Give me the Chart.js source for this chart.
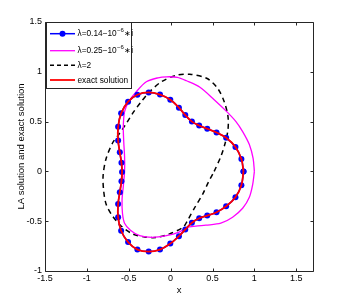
<!DOCTYPE html>
<html>
<head>
<meta charset="utf-8">
<script src="https://cdn.jsdelivr.net/npm/chart.js@4/dist/chart.umd.min.js"></script>
<style>
html,body{margin:0;padding:0;background:#fff;}
#c{display:block;}
</style>
</head>
<body>
<canvas id="c" width="346" height="305"></canvas>
<script>
// ---- data ----
const xTicks = [-1.5, -1, -0.5, 0, 0.5, 1, 1.5];
const yTicks = [-1, -0.5, 0, 0.5, 1, 1.5];
const xTickLabels = ['-1.5', '-1', '-0.5', '0', '0.5', '1', '1.5'];
const yTickLabels = ['-1', '-0.5', '0', '0.5', '1', '1.5'];

// LA solution, lambda = 0.14 - 1e-6 i (blue dots) and exact solution (red) coincide
const laX = [0.87, 0.845, 0.774, 0.663, 0.548, 0.437, 0.341, 0.254, 0.175, 0.099, -0.004, -0.127, -0.262, -0.397, -0.508, -0.591, -0.627, -0.627, -0.607, -0.587, -0.58, -0.587, -0.607, -0.627, -0.627, -0.591, -0.508, -0.397, -0.262, -0.127, -0.004, 0.099, 0.175, 0.254, 0.341, 0.437, 0.548, 0.663, 0.774, 0.845];
const laY = [0.0, 0.124, 0.245, 0.337, 0.39, 0.428, 0.461, 0.5, 0.566, 0.64, 0.72, 0.771, 0.793, 0.77, 0.70, 0.583, 0.448, 0.31, 0.192, 0.088, -0.005, -0.10, -0.209, -0.327, -0.461, -0.596, -0.71, -0.785, -0.805, -0.785, -0.725, -0.65, -0.583, -0.515, -0.47, -0.444, -0.41, -0.35, -0.26, -0.138];
const exactX = laX;
const exactY = laY;

// lambda = 0.25 - 1e-6 i (magenta)
const magX = [1.0, 0.985, 0.94, 0.86, 0.78, 0.67, 0.52, 0.35, 0.19, 0.08, -0.05, -0.15, -0.29, -0.41, -0.50, -0.55, -0.565, -0.56, -0.55, -0.55, -0.565, -0.58, -0.575, -0.55, -0.48, -0.37, -0.22, -0.05, 0.10, 0.19, 0.30, 0.42, 0.60, 0.74, 0.86, 0.94, 0.98];
const magY = [0.0, 0.13, 0.27, 0.40, 0.50, 0.60, 0.72, 0.845, 0.91, 0.945, 0.95, 0.94, 0.90, 0.80, 0.70, 0.60, 0.45, 0.30, 0.15, 0.0, -0.15, -0.28, -0.42, -0.52, -0.59, -0.645, -0.662, -0.645, -0.61, -0.565, -0.55, -0.54, -0.52, -0.46, -0.37, -0.26, -0.13];

// lambda = 2 (black dashed)
const l2X = [0.52, 0.60, 0.65, 0.685, 0.685, 0.64, 0.56, 0.43, 0.23, 0.07, -0.11, -0.25, -0.35, -0.44, -0.53, -0.62, -0.69, -0.77, -0.806, -0.80, -0.77, -0.70, -0.60, -0.45, -0.30, -0.17, -0.02, 0.15, 0.20, 0.29, 0.385, 0.45];
const l2Y = [0.0, 0.15, 0.28, 0.42, 0.55, 0.70, 0.835, 0.935, 0.975, 0.965, 0.90, 0.80, 0.70, 0.60, 0.48, 0.37, 0.29, 0.13, -0.04, -0.19, -0.33, -0.44, -0.54, -0.63, -0.66, -0.663, -0.63, -0.56, -0.495, -0.36, -0.225, -0.11];

const legendLabels = ['λ=0.14−10', 'λ=0.25−10', 'λ=2', 'exact solution'];

function pts(X, Y, close) {
  const p = X.map((x, i) => ({x: x, y: Y[i]}));
  if (close) p.push({x: X[0], y: Y[0]});
  return p;
}

const AX = '#262626';
const FONT = 'Liberation Sans, Arial, Helvetica, sans-serif';

const boxAndTicks = {
  id: 'boxAndTicks',
  afterDatasetsDraw(chart) {
    const ctx = chart.ctx;
    const a = chart.chartArea;
    const xs = chart.scales.x, ys = chart.scales.y;
    ctx.save();
    ctx.strokeStyle = AX;
    ctx.lineWidth = 1;
    const L = Math.round(a.left) + 0.5, R = Math.round(a.right) + 0.5;
    const T = Math.round(a.top) + 0.5, B = Math.round(a.bottom) + 0.5;
    ctx.beginPath();
    ctx.rect(L, T, R - L, B - T);
    ctx.stroke();
    const tl = 3;
    ctx.beginPath();
    xTicks.forEach(v => {
      const px = Math.round(xs.getPixelForValue(v)) + 0.5;
      ctx.moveTo(px, B); ctx.lineTo(px, B - tl);
      ctx.moveTo(px, T); ctx.lineTo(px, T + tl);
    });
    yTicks.forEach(v => {
      const py = Math.round(ys.getPixelForValue(v)) + 0.5;
      ctx.moveTo(L, py); ctx.lineTo(L + tl, py);
      ctx.moveTo(R, py); ctx.lineTo(R - tl, py);
    });
    ctx.stroke();
    ctx.restore();
  },
  afterDraw(chart) {
    const ctx = chart.ctx;
    ctx.save();
    // legend box
    const bx = 46.5, by = 22.5, bw = 85, bh = 66;
    ctx.fillStyle = '#fff';
    ctx.fillRect(bx, by, bw, bh);
    ctx.strokeStyle = AX;
    ctx.lineWidth = 1;
    ctx.strokeRect(bx, by, bw, bh);
    const rows = [33.7, 50.7, 65.3, 80];
    const x0 = 50, x1 = 75, tx = 77.5;
    const styles = [
      {c: '#0000ff', w: 1.5, dash: [], dot: true},
      {c: '#ff00ff', w: 1.3, dash: [], dot: false},
      {c: '#000000', w: 1.5, dash: [4, 3], dot: false},
      {c: '#ff0000', w: 1.8, dash: [], dot: false}
    ];
    rows.forEach((ry, i) => {
      const s = styles[i];
      ctx.strokeStyle = s.c;
      ctx.lineWidth = s.w;
      ctx.setLineDash(s.dash);
      ctx.beginPath();
      ctx.moveTo(x0, ry); ctx.lineTo(x1, ry);
      ctx.stroke();
      ctx.setLineDash([]);
      if (s.dot) {
        ctx.fillStyle = s.c;
        ctx.beginPath();
        ctx.arc((x0 + x1) / 2, ry, 3, 0, Math.PI * 2);
        ctx.fill();
      }
      ctx.fillStyle = '#000';
      ctx.textBaseline = 'middle';
      ctx.textAlign = 'left';
      ctx.font = '8.3px ' + FONT;
      const main = legendLabels[i];
      ctx.fillText(main, tx, ry + 0.5);
      if (i < 2) {
        let w = ctx.measureText(main).width;
        ctx.font = '6px ' + FONT;
        ctx.fillText('−6', tx + w + 0.3, ry - 3);
        const w2 = ctx.measureText('−6').width;
        ctx.font = '8.3px ' + FONT;
        ctx.fillText('∗i', tx + w + w2 + 0.8, ry + 0.5);
      }
    });
    ctx.restore();
  }
};

new Chart(document.getElementById('c'), {
  type: 'scatter',
  data: {
    datasets: [
      {
        label: 'exact solution',
        data: pts(exactX, exactY, true),
        showLine: true,
        borderColor: '#ff0000',
        borderWidth: 1.8,
        pointRadius: 0,
        tension: 0.4,
        order: 0
      },
      {
        label: 'λ=0.14-10^-6*i',
        data: pts(laX, laY, true),
        showLine: true,
        borderColor: '#0000ff',
        backgroundColor: '#0000ff',
        borderWidth: 1.5,
        pointRadius: 3,
        pointBorderWidth: 0,
        pointBackgroundColor: '#0000ff',
        tension: 0.4,
        order: 1
      },
      {
        label: 'λ=0.25-10^-6*i',
        data: pts(magX, magY, true),
        showLine: true,
        borderColor: '#ff00ff',
        borderWidth: 1.3,
        pointRadius: 0,
        tension: 0.3,
        order: 2
      },
      {
        label: 'λ=2',
        data: pts(l2X, l2Y, true),
        showLine: true,
        borderColor: '#000000',
        borderWidth: 1.5,
        borderDash: [5, 4],
        pointRadius: 0,
        tension: 0.3,
        order: 3
      }
    ]
  },
  options: {
    responsive: false,
    animation: false,
    devicePixelRatio: 1,
    layout: {padding: {top: 22, right: 33, left: 0, bottom: 0}},
    plugins: {legend: {display: false}, tooltip: {enabled: false}},
    scales: {
      x: {
        type: 'linear',
        min: -1.5, max: 1.7,
        grid: {display: false, drawTicks: false},
        border: {display: false},
        afterBuildTicks: s => { s.ticks = xTicks.map(v => ({value: v})); },
        afterFit: s => { s.height = 34; },
        ticks: {
          autoSkip: false,
          maxRotation: 0,
          padding: 2,
          color: '#000',
          font: {family: FONT, size: 9},
          callback: (v) => { const i = xTicks.indexOf(v); return i >= 0 ? xTickLabels[i] : ''; }
        },
        title: {display: true, text: 'x', color: '#000', font: {family: FONT, size: 9.5}, padding: {top: 0, bottom: 9}}
      },
      y: {
        type: 'linear',
        min: -1, max: 1.5,
        grid: {display: false, drawTicks: false},
        border: {display: false},
        afterBuildTicks: s => { s.ticks = yTicks.map(v => ({value: v})); },
        afterFit: s => { s.width = 45; },
        ticks: {
          autoSkip: false,
          padding: 3,
          color: '#000',
          font: {family: FONT, size: 9},
          callback: (v) => { const i = yTicks.indexOf(v); return i >= 0 ? yTickLabels[i] : ''; }
        },
        title: {display: true, text: 'LA solution and exact solution', color: '#000', font: {family: FONT, size: 9.5}, padding: {top: 16, bottom: 0}}
      }
    }
  },
  plugins: [boxAndTicks]
});
</script>
</body>
</html>
